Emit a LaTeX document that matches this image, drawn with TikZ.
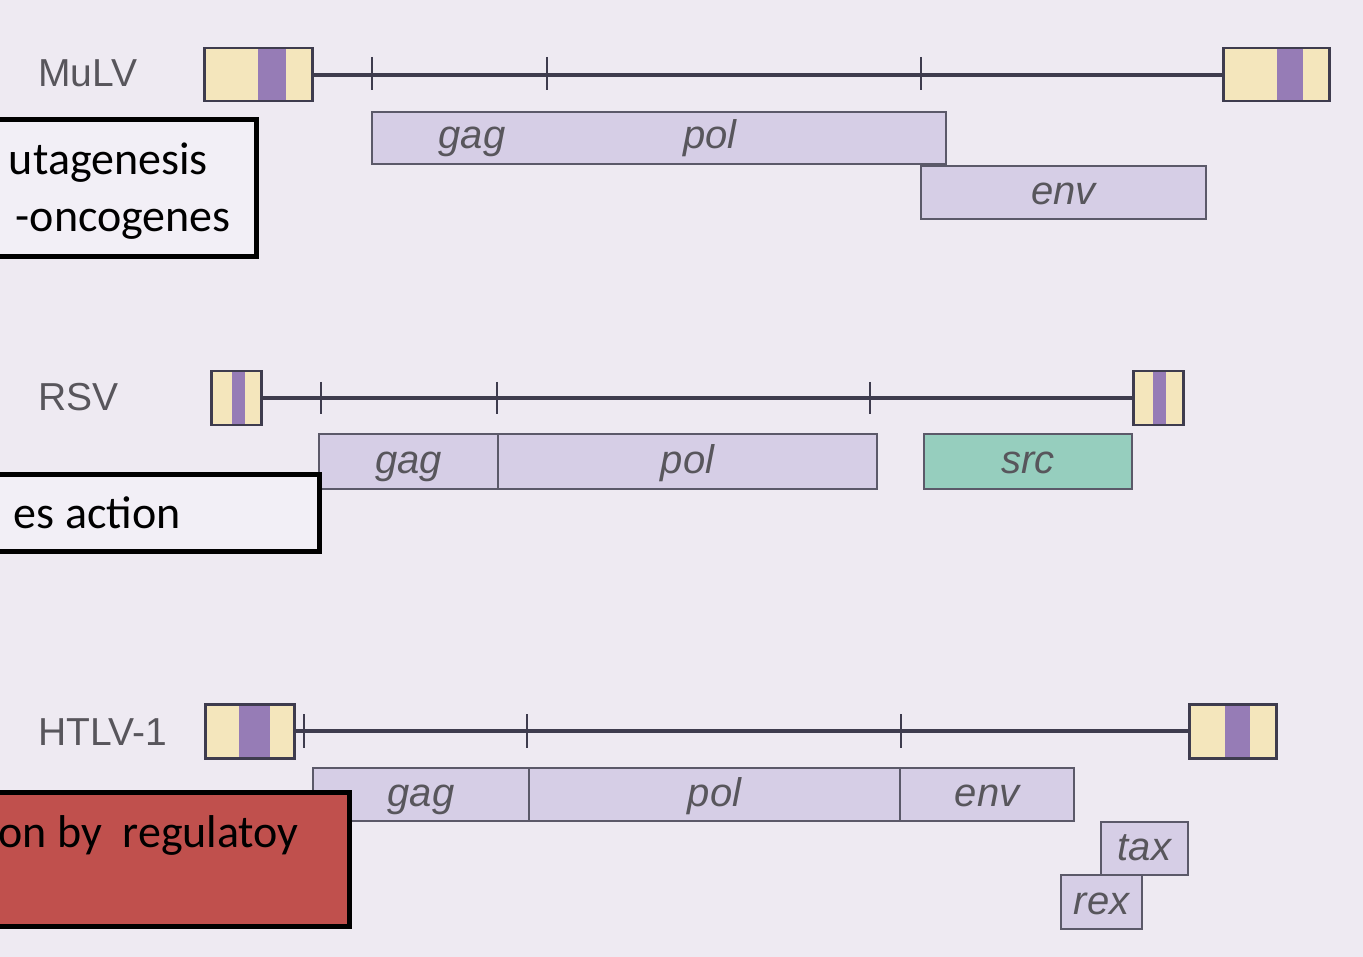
\documentclass[tikz,border=0pt]{standalone}
\usepackage{fontspec}
\setmainfont{Carlito}
\newfontfamily\labfont{Liberation Sans}
\definecolor{bgc}{RGB}{238,234,242}
\definecolor{genefill}{RGB}{214,206,230}
\definecolor{ltrfill}{RGB}{244,230,188}
\definecolor{bandc}{RGB}{150,124,182}
\definecolor{srcfill}{RGB}{150,206,190}
\definecolor{redbox}{RGB}{192,80,77}
\definecolor{linec}{RGB}{62,60,78}
\definecolor{labc}{RGB}{88,86,92}
\definecolor{boxfill}{RGB}{242,239,246}
\begin{document}
\begin{tikzpicture}[x=1pt,y=-1pt,
  gene/.style={draw=linec!85,line width=2pt,fill=genefill,inner sep=0pt,anchor=north west,
    font=\labfont\itshape\fontsize{40}{40}\selectfont,text=labc,text height=30pt,text depth=6pt},
  ltrbox/.style={draw=linec,line width=2.5pt,inner sep=0pt,anchor=north west},
  backbone/.style={draw=linec,line width=4pt},
  tickmark/.style={draw=linec,line width=2pt},
  genelab/.style={font=\labfont\itshape\fontsize{40}{40}\selectfont,text=labc,inner sep=0pt,
    text height=30pt,text depth=6pt},
  virlab/.style={font=\labfont\fontsize{39}{39}\selectfont,text=labc,inner sep=0pt,anchor=west},
  notebox/.style={draw=black,line width=5pt},
  notetext/.style={font=\fontsize{46}{46}\selectfont,text=black,inner sep=0pt,anchor=base east}
]
\useasboundingbox (0,0) rectangle (1363,957);
\fill[bgc] (0,0) rectangle (1363,957);

% ---------------- MuLV ----------------
\node[virlab] (mname) at (38,73) {MuLV};
\fill[ltrfill] (203,47) rectangle (311,100);
\fill[bandc] (258,47) rectangle (286,100);
\node[ltrbox,minimum width=108pt,minimum height=53pt] (mL) at (203,47) {};
\fill[ltrfill] (1222,47) rectangle (1328,100);
\fill[bandc] (1277,47) rectangle (1303,100);
\node[ltrbox,minimum width=106pt,minimum height=53pt] (mR) at (1222,47) {};
\draw[backbone] (mL.east) -- (mR.west);
\draw[tickmark] (372,57) -- (372,90);
\draw[tickmark] (547,57) -- (547,90);
\draw[tickmark] (921,57) -- (921,90);
\node[gene,minimum width=574pt,minimum height=52pt] (mgagpol) at (371,111) {};
\node[genelab] (mgag) at (472,137) {gag};
\node[genelab] (mpol) at (710,137) {pol};
\node[gene,minimum width=285pt,minimum height=53pt] (menv) at (920,165) {env};

% ---------------- RSV ----------------
\node[virlab] (rname) at (38,397) {RSV};
\fill[ltrfill] (210,370) rectangle (260,424);
\fill[bandc] (232,370) rectangle (245,424);
\node[ltrbox,minimum width=50pt,minimum height=54pt] (rL) at (210,370) {};
\fill[ltrfill] (1132,370) rectangle (1182,424);
\fill[bandc] (1153,370) rectangle (1166,424);
\node[ltrbox,minimum width=50pt,minimum height=54pt] (rR) at (1132,370) {};
\draw[backbone] (rL.east) -- (rR.west);
\draw[tickmark] (321,382) -- (321,414);
\draw[tickmark] (497,382) -- (497,414);
\draw[tickmark] (870,382) -- (870,414);
\node[gene,minimum width=179pt,minimum height=55pt] (rgag) at (318,433) {gag};
\node[gene,minimum width=379pt,minimum height=55pt] (rpol) at (497,433) {pol};
\node[gene,fill=srcfill,minimum width=208pt,minimum height=55pt] (rsrc) at (923,433) {src};

% ---------------- HTLV-1 ----------------
\node[virlab] (hname) at (38,732) {HTLV-1};
\fill[ltrfill] (204,703) rectangle (293,757);
\fill[bandc] (239,703) rectangle (270,757);
\node[ltrbox,minimum width=89pt,minimum height=54pt] (hL) at (204,703) {};
\fill[ltrfill] (1188,703) rectangle (1275,757);
\fill[bandc] (1225,703) rectangle (1250,757);
\node[ltrbox,minimum width=87pt,minimum height=54pt] (hR) at (1188,703) {};
\draw[backbone] (hL.east) -- (hR.west);
\draw[tickmark] (304,714) -- (304,748);
\draw[tickmark] (527,714) -- (527,748);
\draw[tickmark] (901,714) -- (901,748);
\node[gene,minimum width=216pt,minimum height=53pt] (hgag) at (312,767) {gag};
\node[gene,minimum width=371pt,minimum height=53pt] (hpol) at (528,767) {pol};
\node[gene,minimum width=174pt,minimum height=53pt] (henv) at (899,767) {env};
\node[gene,minimum width=81pt,minimum height=54pt] (hrex) at (1060,874) {rex};
\node[gene,minimum width=87pt,minimum height=53pt] (htax) at (1100,821) {tax};

% ---------------- note boxes ----------------
\draw[notebox,fill=boxfill] (-20,120) rectangle (256,257);
\node[notetext] (n1a) at (208,175) {utagenesis};
\node[notetext] (n1b) at (231,232) {-oncogenes};

\draw[notebox,fill=boxfill] (-20,474) rectangle (319,551);
\node[notetext] (n2) at (181,528) {es action};

\draw[notebox,fill=redbox] (-20,792) rectangle (349,926);
\node[notetext] (n3) at (299,847) {on by\ \ regulatoy};
\end{tikzpicture}
\end{document}
